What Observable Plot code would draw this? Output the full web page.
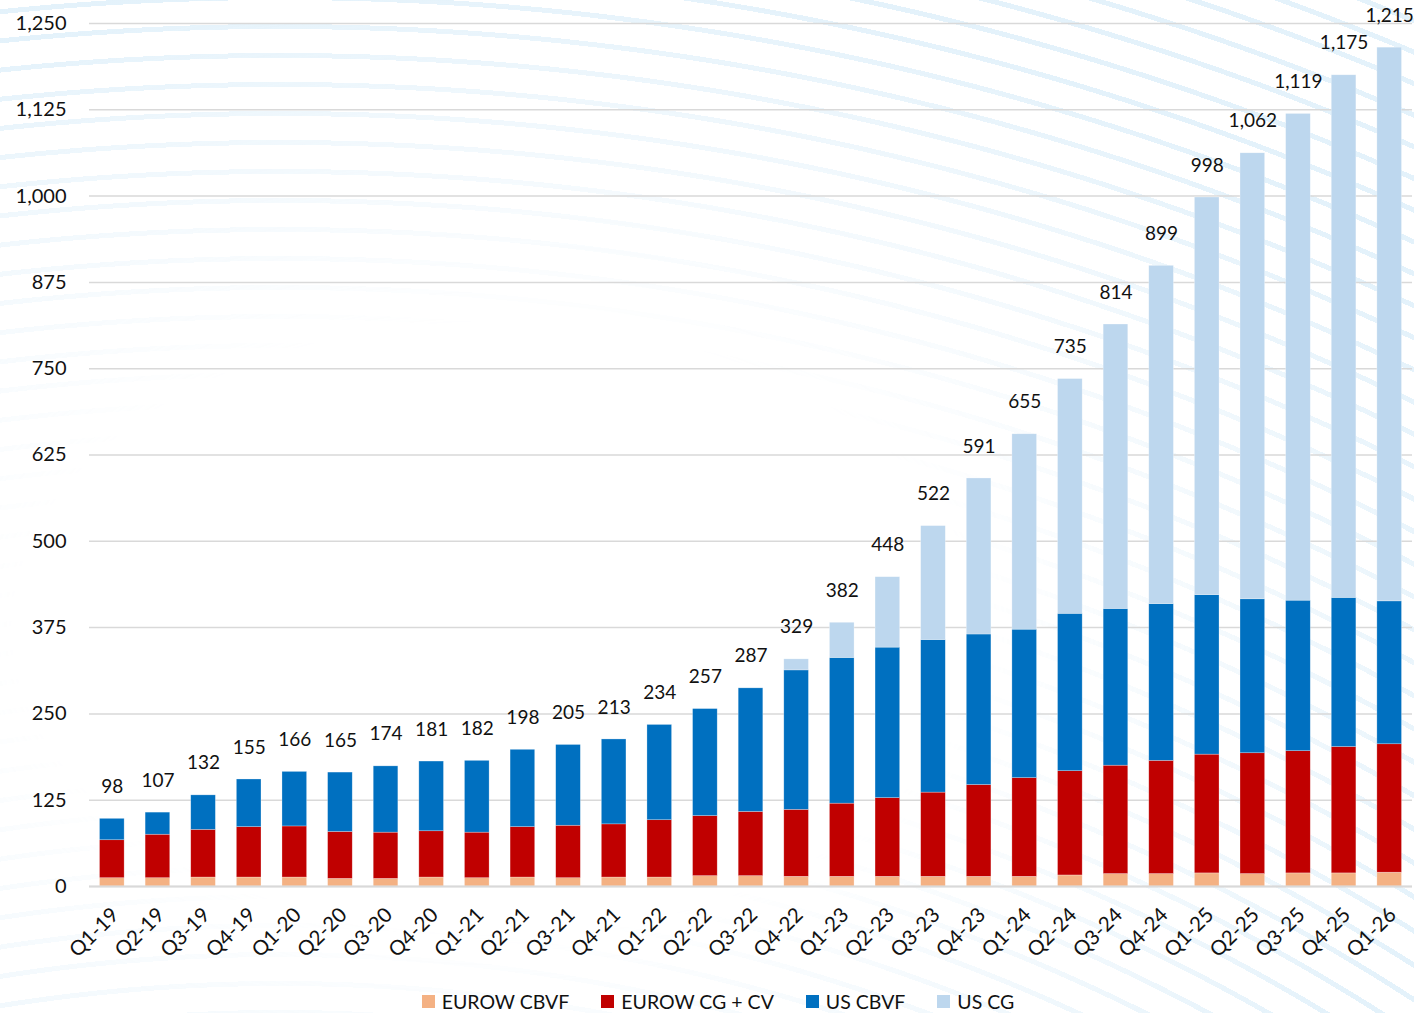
<!DOCTYPE html>
<html>
<head>
<meta charset="utf-8">
<script src="https://cdn.jsdelivr.net/npm/d3@7"></script>
<script src="https://cdn.jsdelivr.net/npm/@observablehq/plot@0.6"></script>
<style>
  html, body { margin: 0; padding: 0; background: #fff; }
  #wrap { position: relative; width: 1414px; height: 1013px; overflow: hidden; font-family: Lato, "Open Sans", sans-serif; }
  #bg {
    position: absolute; inset: 0;
    background: repeating-radial-gradient(circle at 280px 2750px,
      rgba(255,255,255,0) 0px, rgba(255,255,255,0) 24px,
      rgba(190,224,245,0.42) 24px, rgba(190,224,245,0.42) 29px);
    -webkit-mask-image: radial-gradient(ellipse 70% 62% at 35% 62%, rgba(0,0,0,0) 48%, rgba(0,0,0,0.6) 85%, rgba(0,0,0,1) 105%);
    mask-image: radial-gradient(ellipse 70% 62% at 35% 62%, rgba(0,0,0,0) 48%, rgba(0,0,0,0.6) 85%, rgba(0,0,0,1) 105%);
  }
  #chart { position: relative; }
  #legend { position: relative; display: flex; justify-content: center; align-items: center; gap: 32px;
    margin-top: 18px; height: 26px; padding-left: 22px; font-size: 19.5px; color: #111; }
  .item { display: flex; align-items: center; gap: 7px; }
  .sw { width: 13px; height: 13px; display: inline-block; }
</style>
</head>
<body>
<div id="wrap">
  <div id="bg"></div>
  <div id="chart"></div>
  <div id="legend"></div>
</div>
<script>
const quarters = ["Q1-19","Q2-19","Q3-19","Q4-19","Q1-20","Q2-20","Q3-20","Q4-20","Q1-21","Q2-21","Q3-21","Q4-21","Q1-22","Q2-22","Q3-22","Q4-22","Q1-23","Q2-23","Q3-23","Q4-23","Q1-24","Q2-24","Q3-24","Q4-24","Q1-25","Q2-25","Q3-25","Q4-25","Q1-26"];
const eurowCBVF = [12,12,13,13,13,11,11,13,12,13,12,13,13,15,15,14,14,14,14,14,14,16,18,18,19,18,19,19,20];
const eurowCGCV = [55,63,69,73,74,68,67,67,66,73,76,77,83,87,93,97,106,114,122,133,143,151,157,164,172,175,177,183,186];
const usCBVF    = [31,32,50,69,79,86,96,101,104,112,117,123,138,155,179,202,211,218,221,218,215,228,227,227,231,223,218,216,207];
const usCG      = [0,0,0,0,0,0,0,0,0,0,0,0,0,0,0,16,51,102,165,226,283,340,412,490,576,646,705,757,802];
const totals    = [98,107,132,155,166,165,174,181,182,198,205,213,234,257,287,329,382,448,522,591,655,735,814,899,998,1062,1119,1175,1215];
const seriesNames  = ["EUROW CBVF","EUROW CG + CV","US CBVF","US CG"];
const seriesColors = ["#F4B183","#C00000","#0070C0","#BDD7EE"];
const yTicks = [0,125,250,375,500,625,750,875,1000,1125,1250];

const seriesValues = [eurowCBVF, eurowCGCV, usCBVF, usCG];
const rows = quarters.flatMap((q, i) => seriesNames.map((s, j) => ({quarter: q, series: s, value: seriesValues[j][i]})));
const fmt = d3.format(",");

const chart = Plot.plot({
  width: 1414,
  height: 970,
  marginLeft: 89,
  marginRight: 2,
  marginTop: 23,
  marginBottom: 84,
  style: {fontFamily: "Lato, 'Open Sans', sans-serif", fontSize: "19px", color: "#111", background: "transparent", overflow: "visible"},
  x: {domain: quarters, paddingInner: 0.46, paddingOuter: 0.23, round: false},
  y: {domain: [0, 1250]},
  color: {domain: seriesNames, range: seriesColors},
  marks: [
    Plot.ruleY(yTicks, {stroke: "#d9d9d9", strokeWidth: 1.5}),
    Plot.barY(rows, {x: "quarter", y: "value", fill: "series", stroke: "#ffffff", strokeWidth: 0.6, strokeOpacity: 0.45}),
    Plot.ruleY([0], {stroke: "#d9d9d9", strokeWidth: 2}),
    Plot.text(totals, {x: (d, i) => quarters[i], y: d => d, text: d => fmt(d), dy: -32, fontSize: 19, fill: "#111"}),
    Plot.axisX({tickRotate: -45, tickSize: 0, tickPadding: 16, fontSize: 20.5, dy: 9, dx: 3, label: null}),
    Plot.axisY({ticks: yTicks, tickFormat: d => fmt(d), tickSize: 0, tickPadding: 23, fontSize: 20, label: null})
  ]
});
document.getElementById("chart").appendChild(chart);

const legend = document.getElementById("legend");
seriesNames.forEach((s, i) => {
  const it = document.createElement("div");
  it.className = "item";
  const sw = document.createElement("span");
  sw.className = "sw";
  sw.style.background = seriesColors[i];
  const t = document.createElement("span");
  t.textContent = s;
  it.appendChild(sw); it.appendChild(t);
  legend.appendChild(it);
});
</script>
</body>
</html>
